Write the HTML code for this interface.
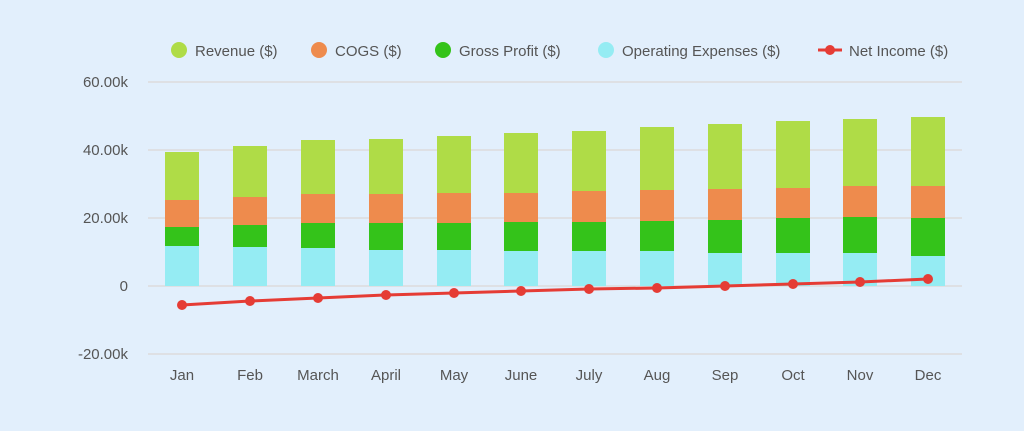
<!DOCTYPE html>
<html><head><style>body{margin:0;background:#e2effc}</style></head><body>
<svg width="1024" height="426" xmlns="http://www.w3.org/2000/svg" font-family="Liberation Sans, sans-serif">
<rect width="1024" height="426" fill="#e2effc"/>
<g stroke="#dcdcdc" stroke-width="1.5">
<line x1="148" x2="962" y1="82" y2="82"/><line x1="148" x2="962" y1="150" y2="150"/><line x1="148" x2="962" y1="218" y2="218"/><line x1="148" x2="962" y1="286" y2="286"/><line x1="148" x2="962" y1="354" y2="354"/>
</g>
<g fill="#555" font-size="15" text-anchor="end">
<text x="128" y="87">60.00k</text><text x="128" y="155">40.00k</text><text x="128" y="223">20.00k</text><text x="128" y="291">0</text><text x="128" y="359">-20.00k</text>
</g>
<g id="bars"></g>
<g fill="#555" font-size="15" text-anchor="middle" id="xl"></g>
<g id="line"></g>
<g font-size="15" fill="#555">
<circle cx="179" cy="50" r="8" fill="#afdc47"/><text x="195" y="56">Revenue ($)</text>
<circle cx="319" cy="50" r="8" fill="#ee8b4d"/><text x="335" y="56">COGS ($)</text>
<circle cx="443" cy="50" r="8" fill="#34c31a"/><text x="459" y="56">Gross Profit ($)</text>
<circle cx="606" cy="50" r="8" fill="#95ecf3"/><text x="622" y="56">Operating Expenses ($)</text>
<line x1="818" x2="842" y1="50" y2="50" stroke="#e53c35" stroke-width="3"/><circle cx="830" cy="50" r="5" fill="#e53c35"/><text x="849" y="56">Net Income ($)</text>
</g>
<script>
var cx=[182,250,318,386,454,521,589,657,725,793,860,928];
var lab=["Jan","Feb","March","April","May","June","July","Aug","Sep","Oct","Nov","Dec"];
var d=[[152,200,227,246],[146,197,225,247],[140,194,223,248],[139,194,223,250],[136,193,223,250],[133,193,222,251],[131,191,222,251],[127,190,221,251],[124,189,220,253],[121,188,218,253],[119,186,217,253],[117,186,218,256]];
var ly=[305,301,298,295,293,291,289,288,286,284,282,279];
var ns="http://www.w3.org/2000/svg",b=document.getElementById("bars"),x=document.getElementById("xl"),l=document.getElementById("line");
var cols=["#afdc47","#ee8b4d","#34c31a","#95ecf3"];
function el(t,a,p){var e=document.createElementNS(ns,t);for(var k in a)e.setAttribute(k,a[k]);p.appendChild(e);return e;}
cx.forEach(function(c,i){var ys=d[i].concat([286]);for(var j=0;j<4;j++)el("rect",{x:c-17,y:ys[j],width:34,height:ys[j+1]-ys[j],fill:cols[j]},b);
var t=el("text",{x:c,y:380},x);t.textContent=lab[i];});
el("polyline",{points:cx.map(function(c,i){return c+","+ly[i]}).join(" "),fill:"none",stroke:"#e53c35","stroke-width":3},l);
cx.forEach(function(c,i){el("circle",{cx:c,cy:ly[i],r:5,fill:"#e53c35"},l);});
</script>
</svg>
</body></html>
